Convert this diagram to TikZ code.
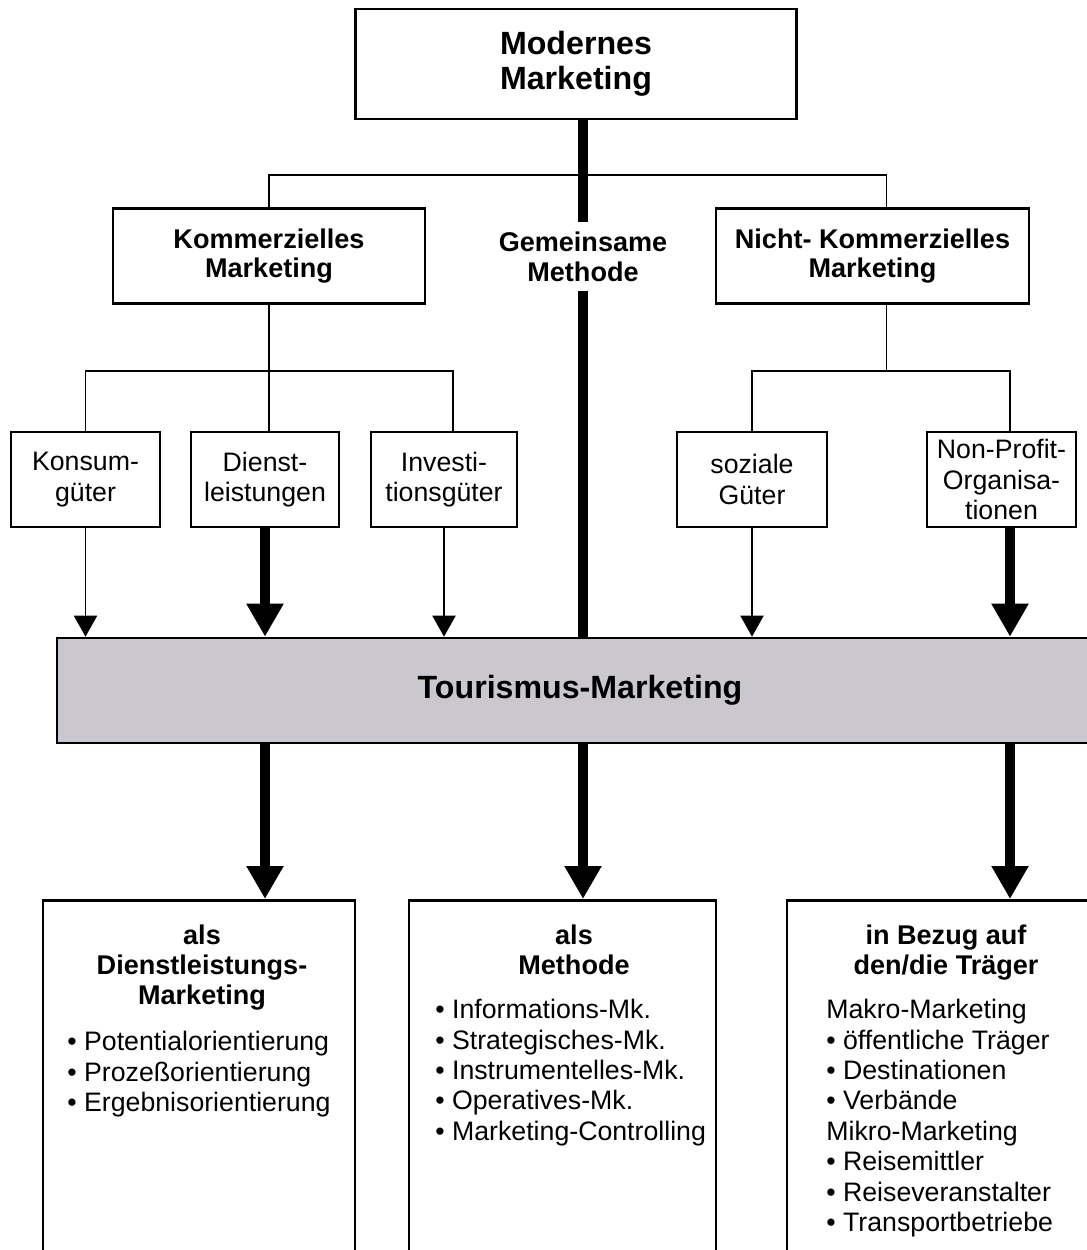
\documentclass[tikz,border=0pt]{standalone}
\usepackage{fontspec}
\setmainfont{Liberation Sans}
\usetikzlibrary{arrows.meta,positioning}
\definecolor{bandgray}{RGB}{202,199,207}
\newcommand{\topfont}{\fontsize{18.3}{20}\selectfont\bfseries}
\newcommand{\midfont}{\fontsize{15.4}{17}\selectfont\bfseries}
\newcommand{\smallfont}{\fontsize{15.2}{17.3}\selectfont}

\begin{document}
\begin{tikzpicture}[
  every node/.style={inner sep=0pt},
  box/.style={draw, line width=1.5pt, align=center},
  link/.style={line width=1.1pt},
  heavy/.style={line width=5.6pt},
  thinarrow/.style={link, -{Triangle[width=0.46cm,length=0.42cm]}},
  thickarrow/.style={heavy, -{Triangle[width=0.7cm,length=0.66cm]}},
  leaf/.style={box, font=\smallfont, minimum height=1.9cm},
  title/.style={font=\midfont, align=center, anchor=north},
  list/.style={font=\smallfont, align=left, anchor=north west}
]
\useasboundingbox (0,0) rectangle (21.74,-25);

% upper levels
\node[box, font=\topfont, minimum width=8.82cm, minimum height=2.2cm] (top) at (11.52,-1.28) {Modernes\\Marketing};
\node[box, font=\midfont, minimum width=6.24cm, minimum height=1.9cm] (kom) at (5.38,-5.12) {Kommerzielles\\Marketing};
\node[font=\midfont, align=center, inner sep=0.18cm] (gm) at (11.66,-5.13) {Gemeinsame\\Methode};
\node[box, font=\midfont, minimum width=6.26cm, minimum height=1.9cm] (nicht) at (17.45,-5.12) {Nicht- Kommerzielles\\Marketing};

% goods
\node[leaf, minimum width=2.98cm] (konsum) at (1.71,-9.59) {Konsum-\\güter};
\node[leaf, minimum width=2.96cm] (dienst) at (5.30,-9.59) {Dienst-\\leistungen};
\node[leaf, minimum width=2.92cm] (invest) at (8.88,-9.59) {Investi-\\tionsgüter};
\node[leaf, minimum width=3.00cm] (sozial) at (15.04,-9.59) {soziale\\Güter};
\node[leaf, minimum width=2.98cm] (nonprofit) at (20.03,-9.59) {Non-Profit-\\Organisa-\\tionen};
\coordinate (npout) at ([xshift=0.17cm]nonprofit.north);
\coordinate (npin) at ([xshift=0.17cm]nonprofit.south);

% band
\node[draw, line width=1.5pt, fill=bandgray, minimum width=20.92cm, minimum height=2.1cm, font=\topfont] (band) at (11.6,-13.81) {Tourismus-Marketing};

% lower boxes
\node[box, minimum width=6.24cm, minimum height=7.8cm, anchor=north] (lbox) at (3.98,-17.98) {};
\node[box, minimum width=6.14cm, minimum height=7.8cm, anchor=north] (mbox) at (11.25,-17.98) {};
\node[box, minimum width=6.26cm, minimum height=7.8cm, anchor=north] (rbox) at (18.87,-17.98) {};

\node[title] (ltitle) at (4.04,-18.5) {als\\Dienstleistungs-\\Marketing};
\node[title] (mtitle) at (11.48,-18.5) {als\\Methode};
\node[title] (rtitle) at (18.92,-18.5) {in Bezug auf\\den/die Träger};

\node[list] (llist) at (1.34,-20.62) {\textbullet\ Potentialorientierung\\\textbullet\ Prozeßorientierung\\\textbullet\ Ergebnisorientierung};
\node[list] (mlist) at (8.70,-19.98) {\textbullet\ Informations-Mk.\\\textbullet\ Strategisches-Mk.\\\textbullet\ Instrumentelles-Mk.\\\textbullet\ Operatives-Mk.\\\textbullet\ Marketing-Controlling};
\node[list] (rlist) at (16.52,-19.98) {Makro-Marketing\\\textbullet\ öffentliche Träger\\\textbullet\ Destinationen\\\textbullet\ Verbände\\Mikro-Marketing\\\textbullet\ Reisemittler\\\textbullet\ Reiseveranstalter\\\textbullet\ Transportbetriebe};

% tree lines
\coordinate (br0) at (11.66,-3.5);
\coordinate (br1) at (5.32,-7.42);
\coordinate (nout) at ([xshift=0.28cm]nicht.south);
\draw[link] (kom.north) |- (br0) -| ([xshift=0.28cm]nicht.north);
\draw[link] (kom.south) -- (kom.south |- dienst.north);
\draw[link] (konsum.north) |- (br1) -| ([xshift=0.18cm]invest.north);
\draw[link] (nout) -- (nout |- br1);
\draw[link] (sozial.north) |- (nout |- br1) -| (npout);
\draw[heavy] (top.south -| gm) -- (gm.north);
\draw[heavy] (gm.south) -- (gm.south |- band.north);

% into the band
\foreach \n in {konsum,invest,sozial}
  \draw[thinarrow] (\n.south) -- (\n.south |- band.north);
\draw[thickarrow] (dienst.south) -- (dienst.south |- band.north);
\draw[thickarrow] (npin) -- (npin |- band.north);

% out of the band
\draw[thickarrow] (dienst.south |- band.south) -- (dienst.south |- lbox.north);
\draw[thickarrow] (gm.south |- band.south) -- (gm.south |- mbox.north);
\draw[thickarrow] (npin |- band.south) -- (npin |- rbox.north);
\end{tikzpicture}
\end{document}
